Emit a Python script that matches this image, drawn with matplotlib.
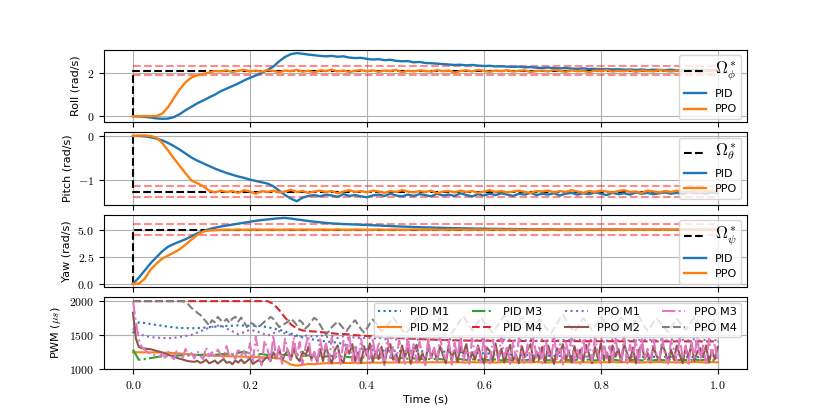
import numpy as np
import matplotlib
matplotlib.use("Agg")
import matplotlib.pyplot as plt

plt.rcParams['mathtext.fontset'] = 'cm'
plt.rcParams['font.family'] = ['DejaVu Sans']

# ---------------- data ----------------
t_slow = np.linspace(0.0, 1.0, 101)
t_fast = np.linspace(0.0, 1.0, 201)

roll_ref = 2.12
pitch_ref = -1.26
yaw_ref = 5.0
roll_band = [1.90, 2.34]
pitch_band = [-1.13, -1.39]
yaw_band = [4.5, 5.5]

roll_pid = [0.00, -0.01, -0.03, -0.06, -0.10, -0.12, -0.11, -0.04, 0.10, 0.28,
            0.44, 0.60, 0.73, 0.87, 1.00, 1.16, 1.28, 1.40, 1.52, 1.66,
            1.78, 1.89, 2.01, 2.15, 2.30, 2.55, 2.75, 2.88, 2.93, 2.90,
            2.86, 2.83, 2.80, 2.78, 2.80, 2.76, 2.78, 2.72, 2.70, 2.71,
            2.66, 2.63, 2.65, 2.60, 2.62, 2.57, 2.55, 2.56, 2.50, 2.52,
            2.47, 2.46, 2.44, 2.42, 2.40, 2.38, 2.39, 2.36, 2.38, 2.35,
            2.33, 2.34, 2.31, 2.32, 2.30, 2.29, 2.30, 2.27, 2.28, 2.25,
            2.24, 2.26, 2.23, 2.22, 2.24, 2.21, 2.20, 2.22, 2.19, 2.20,
            2.18, 2.19, 2.17, 2.18, 2.16, 2.17, 2.15, 2.17, 2.14, 2.16,
            2.15, 2.14, 2.16, 2.13, 2.15, 2.14, 2.13, 2.15, 2.12, 2.14,
            2.13]
roll_ppo = [0.00, 0.00, 0.01, 0.00, 0.01, 0.12, 0.42, 0.85, 1.25, 1.58,
            1.80, 1.90, 1.96, 2.03, 2.10, 2.08, 2.13, 2.05, 2.11, 2.15,
            2.08, 2.12, 2.06, 2.14, 2.10, 2.04, 2.12, 2.09, 2.15, 2.07,
            2.11, 2.03, 2.13, 2.10, 2.16, 2.08, 2.12, 2.05, 2.11, 2.14,
            2.09, 2.13, 2.06, 2.12, 2.10, 2.15, 2.04, 2.11, 2.08, 2.13,
            2.10, 2.07, 2.14, 2.09, 2.12, 2.02, 2.10, 2.13, 2.08, 2.15,
            2.11, 2.06, 2.12, 2.09, 2.14, 2.07, 2.11, 2.13, 2.05, 2.10,
            2.12, 2.08, 2.15, 2.10, 2.06, 2.13, 2.09, 2.11, 2.04, 2.12,
            2.10, 2.14, 2.07, 2.11, 2.09, 2.13, 2.06, 2.12, 2.10, 2.08,
            2.14, 2.11, 2.07, 2.12, 2.09, 2.13, 2.10, 2.06, 2.12, 2.10,
            2.11]

pitch_pid = [0.00, -0.00, -0.01, -0.03, -0.06, -0.10, -0.16, -0.23, -0.31, -0.40,
             -0.49, -0.56, -0.62, -0.68, -0.74, -0.79, -0.84, -0.88, -0.92, -0.95,
             -0.99, -1.02, -1.05, -1.08, -1.14, -1.24, -1.34, -1.42, -1.48, -1.40,
             -1.36, -1.34, -1.37, -1.33, -1.35, -1.38, -1.32, -1.36, -1.34, -1.37,
             -1.39, -1.35, -1.33, -1.36, -1.31, -1.35, -1.37, -1.33, -1.36, -1.32,
             -1.34, -1.37, -1.31, -1.35, -1.33, -1.36, -1.30, -1.34, -1.37, -1.32,
             -1.35, -1.31, -1.34, -1.30, -1.33, -1.36, -1.31, -1.33, -1.29, -1.34,
             -1.31, -1.33, -1.30, -1.35, -1.31, -1.29, -1.33, -1.30, -1.32, -1.28,
             -1.31, -1.34, -1.29, -1.32, -1.30, -1.33, -1.28, -1.31, -1.29, -1.32,
             -1.30, -1.28, -1.31, -1.29, -1.32, -1.28, -1.30, -1.29, -1.31, -1.28,
             -1.30]
pitch_ppo = [0.00, 0.01, 0.01, 0.00, -0.04, -0.16, -0.33, -0.51, -0.68, -0.85,
             -1.01, -1.07, -1.14, -1.24, -1.28, -1.24, -1.27, -1.25, -1.29, -1.23,
             -1.26, -1.31, -1.25, -1.27, -1.24, -1.28, -1.26, -1.22, -1.27, -1.25,
             -1.29, -1.26, -1.24, -1.27, -1.25, -1.30, -1.26, -1.23, -1.27, -1.25,
             -1.28, -1.24, -1.26, -1.29, -1.25, -1.27, -1.23, -1.26, -1.28, -1.25,
             -1.27, -1.24, -1.30, -1.26, -1.25, -1.28, -1.24, -1.27, -1.25, -1.29,
             -1.26, -1.23, -1.27, -1.25, -1.28, -1.26, -1.24, -1.27, -1.29, -1.25,
             -1.26, -1.24, -1.28, -1.25, -1.27, -1.23, -1.26, -1.29, -1.25, -1.27,
             -1.24, -1.26, -1.28, -1.25, -1.23, -1.27, -1.26, -1.29, -1.24, -1.26,
             -1.28, -1.25, -1.27, -1.24, -1.26, -1.28, -1.25, -1.27, -1.26, -1.24,
             -1.26]

yaw_pid = [0.00, 0.55, 1.22, 1.88, 2.45, 3.00, 3.42, 3.68, 3.90, 4.12,
           4.39, 4.66, 4.85, 5.05, 5.18, 5.29, 5.38, 5.47, 5.56, 5.65,
           5.74, 5.82, 5.89, 5.95, 6.01, 6.06, 6.09, 6.03, 5.95, 5.88,
           5.80, 5.74, 5.68, 5.63, 5.58, 5.55, 5.52, 5.50, 5.48, 5.46,
           5.44, 5.41, 5.39, 5.36, 5.34, 5.31, 5.29, 5.27, 5.25, 5.23,
           5.21, 5.20, 5.18, 5.17, 5.15, 5.14, 5.13, 5.12, 5.11, 5.10,
           5.09, 5.08, 5.08, 5.07, 5.06, 5.06, 5.05, 5.05, 5.04, 5.04,
           5.03, 5.03, 5.03, 5.02, 5.03, 5.02, 5.02, 5.01, 5.02, 5.01,
           5.02, 5.01, 5.01, 5.02, 5.01, 5.00, 5.01, 5.01, 5.00, 5.01,
           5.00, 5.01, 5.00, 5.00, 5.01, 5.00, 5.00, 5.01, 5.00, 5.00,
           5.00]
yaw_ppo = [0.00, 0.00, 0.45, 1.30, 1.85, 2.32, 2.60, 2.88, 3.20, 3.62,
           4.08, 4.52, 4.83, 4.92, 4.96, 4.98, 5.00, 4.99, 5.01, 4.98,
           5.00, 5.02, 4.99, 5.00, 5.01, 4.98, 5.00, 5.02, 4.99, 5.01,
           5.00, 4.98, 5.01, 5.00, 4.99, 5.02, 5.00, 4.99, 5.01, 5.00,
           4.98, 5.00, 5.02, 4.99, 5.00, 5.01, 4.99, 5.00, 5.02, 5.00,
           4.99, 5.01, 5.00, 4.98, 5.01, 5.00, 5.02, 4.99, 5.00, 5.01,
           4.99, 5.00, 5.02, 5.00, 4.99, 5.01, 5.00, 4.98, 5.01, 5.00,
           5.02, 4.99, 5.00, 5.01, 4.99, 5.00, 5.01, 5.00, 4.99, 5.02,
           5.00, 4.99, 5.01, 5.00, 4.98, 5.01, 5.00, 5.02, 4.99, 5.00,
           5.01, 4.99, 5.00, 5.01, 5.00, 4.99, 5.01, 5.00, 5.02, 5.00,
           5.00]

# PWM, PID motors (t_slow)
pid_m1 = [1530, 1690, 1680, 1665, 1650, 1640, 1625, 1615, 1608, 1605,
          1603, 1605, 1610, 1618, 1625, 1632, 1638, 1640, 1645, 1642,
          1640, 1640, 1632, 1618, 1600, 1580, 1555, 1525, 1495, 1470,
          1450, 1435, 1420, 1410, 1400, 1390, 1370, 1345, 1320, 1300,
          1290, 1282, 1278, 1275, 1272, 1270, 1269, 1268, 1267, 1266,
          1266, 1264, 1262, 1260, 1258, 1255, 1251, 1247, 1243, 1239,
          1235, 1231, 1227, 1223, 1219, 1215, 1212, 1209, 1206, 1203,
          1200, 1198, 1197, 1195, 1194, 1193, 1192, 1191, 1190, 1190,
          1189, 1188, 1188, 1187, 1186, 1186, 1185, 1185, 1184, 1184,
          1183, 1183, 1182, 1182, 1181, 1181, 1180, 1180, 1180, 1179,
          1179]
pid_m2 = [1250, 1250, 1250, 1249, 1248, 1246, 1243, 1238, 1232, 1225,
          1218, 1212, 1207, 1203, 1200, 1197, 1194, 1191, 1188, 1185,
          1182, 1180, 1177, 1173, 1168, 1160, 1120, 1070, 1055, 1065,
          1080, 1075, 1085, 1090, 1088, 1092, 1095, 1093, 1097, 1095,
          1098, 1100, 1097, 1102, 1099, 1103, 1100, 1105, 1101, 1104,
          1100, 1106, 1102, 1105, 1101, 1107, 1103, 1100, 1106, 1102,
          1108, 1103, 1100, 1105, 1109, 1103, 1101, 1106, 1102, 1108,
          1104, 1100, 1106, 1103, 1109, 1104, 1101, 1107, 1103, 1100,
          1106, 1104, 1108, 1102, 1105, 1109, 1103, 1101, 1106, 1104,
          1108, 1102, 1105, 1100, 1106, 1103, 1108, 1104, 1101, 1106,
          1104]
pid_m3 = [1290, 1140, 1150, 1165, 1180, 1190, 1195, 1200, 1205, 1208,
          1212, 1210, 1215, 1220, 1214, 1222, 1228, 1220, 1240, 1262,
          1230, 1215, 1225, 1210, 1222, 1205, 1215, 1200, 1212, 1198,
          1205, 1192, 1200, 1188, 1195, 1182, 1190, 1178, 1185, 1172,
          1180, 1168, 1175, 1165, 1170, 1160, 1166, 1155, 1162, 1150,
          1158, 1148, 1155, 1145, 1152, 1140, 1150, 1138, 1148, 1135,
          1146, 1134, 1145, 1132, 1144, 1130, 1143, 1132, 1145, 1130,
          1142, 1133, 1146, 1130, 1144, 1131, 1142, 1134, 1145, 1130,
          1143, 1132, 1146, 1131, 1142, 1133, 1145, 1130, 1144, 1132,
          1143, 1131, 1146, 1133, 1142, 1130, 1145, 1132, 1144, 1131,
          1140]
pid_m4 = [2000, 2000, 2000, 2000, 2000, 2000, 2000, 2000, 2000, 2000,
          2000, 2000, 2000, 2000, 2000, 2000, 2000, 2000, 2000, 2000,
          2000, 2000, 2000, 2000, 1960, 1870, 1760, 1660, 1600, 1570,
          1560, 1555, 1545, 1540, 1530, 1520, 1518, 1512, 1500, 1495,
          1490, 1487, 1480, 1476, 1470, 1462, 1458, 1452, 1448, 1444,
          1440, 1437, 1434, 1431, 1428, 1425, 1424, 1422, 1421, 1420,
          1420, 1419, 1418, 1418, 1417, 1417, 1416, 1416, 1415, 1415,
          1415, 1414, 1414, 1414, 1413, 1413, 1413, 1413, 1412, 1412,
          1412, 1412, 1412, 1411, 1411, 1411, 1411, 1411, 1410, 1410,
          1410, 1410, 1410, 1410, 1410, 1410, 1410, 1410, 1410, 1410,
          1410]
ppo_m1 = [1600, 1520, 1490, 1475, 1465, 1460, 1455, 1462, 1475, 1490,
          1505, 1540, 1575, 1610, 1635, 1645, 1600, 1560, 1515, 1545,
          1580, 1560, 1535, 1495, 1530, 1560, 1525, 1505, 1480, 1490,
          1495, 1475, 1505, 1470, 1490, 1460, 1485, 1455, 1475, 1450,
          1470, 1445, 1465, 1440, 1460, 1438, 1455, 1435, 1452, 1430,
          1450, 1428, 1446, 1425, 1442, 1430, 1448, 1424, 1440, 1426,
          1445, 1422, 1438, 1428, 1444, 1420, 1436, 1425, 1442, 1418,
          1435, 1424, 1440, 1420, 1437, 1423, 1443, 1419, 1434, 1426,
          1441, 1420, 1436, 1424, 1440, 1418, 1435, 1425, 1442, 1421,
          1437, 1423, 1439, 1419, 1434, 1426, 1441, 1420, 1436, 1424,
          1430]

# PWM, PPO motors (t_fast)
ppo_m2 = [1830, 1450, 1330, 1310, 1305, 1300, 1295, 1285, 1270, 1260,
          1245, 1230, 1215, 1200, 1185, 1170, 1155, 1145, 1130, 1120,
          1115, 1110,
          1125, 1095, 1110, 1140, 1090, 1105, 1130, 1085, 1120, 1150,
          1095, 1110, 1075, 1130, 1100, 1145, 1090, 1120, 1160, 1080,
          1110, 1135, 1095, 1150,
          1180, 1120, 1250, 1160, 1300, 1130, 1220, 1280, 1140, 1310,
          1170, 1120, 1260, 1200, 1330, 1150, 1240, 1110,
          1300, 1120, 1360, 1180, 1090, 1280, 1350, 1150, 1100, 1320,
          1230, 1370, 1120, 1250, 1090, 1340, 1200, 1380, 1110, 1260,
          1150, 1330, 1090, 1290, 1370, 1140, 1220, 1100, 1350, 1180,
          1310, 1080, 1270, 1360, 1130, 1240, 1100, 1380, 1170, 1300,
          1120, 1340, 1210, 1090, 1360, 1160, 1280, 1110, 1330, 1230,
          1370, 1100, 1250, 1140, 1350, 1190, 1090, 1320, 1270, 1120,
          1380, 1150, 1300, 1100, 1240, 1360, 1130, 1210, 1090, 1340,
          1180, 1290, 1370, 1110, 1260, 1150, 1330, 1100, 1350, 1200,
          1080, 1310, 1240, 1370, 1130, 1270, 1100, 1340, 1170, 1290,
          1120, 1360, 1220, 1090, 1330, 1160, 1380, 1140, 1250, 1100,
          1350, 1190, 1300, 1110, 1370, 1230, 1130, 1320, 1090, 1280,
          1360, 1150, 1240, 1100, 1340, 1200, 1130, 1370, 1260, 1110,
          1290, 1140, 1350, 1210, 1090, 1320, 1180, 1370, 1120, 1260,
          1310, 1180, 1350, 1100, 1280, 1150, 1330]
ppo_m3 = [2000, 1700, 1430, 1330, 1290, 1250, 1230, 1215, 1200, 1190,
          1230, 1170, 1260, 1190, 1150, 1280, 1210, 1170, 1300, 1180,
          1240, 1160, 1270, 1200, 1150, 1320, 1190, 1250, 1160, 1290,
          1220, 1170, 1340, 1180, 1240, 1150, 1310, 1200, 1260, 1170,
          1380, 1120, 1480, 1200, 1060, 1420, 1300, 1100, 1500, 1150,
          1350, 1080, 1450, 1250, 1120, 1470, 1180, 1400, 1070, 1330,
          1490, 1130, 1260, 1060, 1440, 1210, 1380, 1100, 1470, 1160,
          1310, 1080, 1420, 1230, 1500, 1120, 1360, 1070, 1450, 1190,
          1280, 1090, 1460, 1140, 1400, 1220, 1060, 1480, 1170, 1340,
          1100, 1430, 1250, 1080, 1490, 1150, 1370, 1110, 1410, 1200,
          1060, 1460, 1130, 1320, 1090, 1480, 1240, 1150, 1420, 1070,
          1390, 1180, 1500, 1120, 1300, 1080, 1450, 1210, 1360, 1100,
          1470, 1160, 1060, 1430, 1270, 1120, 1490, 1190, 1350, 1080,
          1410, 1140, 1460, 1230, 1070, 1380, 1110, 1480, 1170, 1320,
          1090, 1440, 1260, 1130, 1500, 1150, 1370, 1060, 1420, 1200,
          1470, 1100, 1290, 1080, 1450, 1180, 1390, 1120, 1480, 1240,
          1070, 1410, 1160, 1340, 1100, 1460, 1210, 1130, 1490, 1090,
          1360, 1190, 1430, 1070, 1470, 1140, 1300, 1110, 1440, 1220,
          1130, 1460, 1200, 1080, 1420, 1290, 1100, 1480, 1160, 1350,
          1080, 1400, 1170, 1480, 1120, 1350, 1090, 1450, 1200, 1380,
          1100]
ppo_m4 = [2000, 2000, 2000, 2000, 2000, 2000, 2000, 2000, 2000, 2000,
          2000, 2000, 2000, 2000, 2000, 2000, 2000, 2000,
          1980, 1950, 1900, 1870, 1830, 1800, 1750, 1700,
          1645, 1720, 1690, 1770, 1720, 1695, 1740, 1680, 1745, 1770,
          1700, 1760, 1690, 1620, 1680, 1670, 1630, 1620, 1660, 1700,
          1720, 1770, 1740, 1680, 1620, 1650, 1670, 1700, 1745, 1700,
          1650, 1720, 1680, 1600, 1640, 1700, 1757, 1720, 1650, 1580,
          1505, 1560, 1620, 1660, 1700, 1650, 1600, 1560, 1620, 1680,
          1720, 1650, 1590, 1540, 1600, 1670, 1730, 1690, 1620, 1560,
          1600, 1650, 1700, 1760, 1700, 1640, 1580, 1520, 1560, 1620,
          1680, 1740, 1800, 1720, 1650, 1600, 1550, 1610, 1680, 1750,
          1700, 1630, 1580, 1530, 1590, 1660, 1720, 1780, 1710, 1640,
          1570, 1620, 1690, 1760, 1700, 1640, 1590, 1540, 1600, 1660,
          1730, 1790, 1720, 1650, 1580, 1620, 1700, 1770, 1700, 1630,
          1560, 1610, 1680, 1740, 1690, 1620, 1570, 1530, 1600, 1670,
          1740, 1800, 1730, 1660, 1600, 1550, 1610, 1680, 1750, 1700,
          1640, 1580, 1630, 1700, 1760, 1710, 1650, 1590, 1540, 1610,
          1690, 1760, 1720, 1650, 1590, 1640, 1710, 1780, 1700, 1620,
          1570, 1620, 1690, 1750, 1700, 1640, 1600, 1550, 1610, 1680,
          1740, 1690, 1630, 1580, 1640, 1700, 1760, 1700, 1640, 1590,
          1560, 1620, 1680, 1730, 1690]

x_ticks = [0.0, 0.2, 0.4, 0.6, 0.8, 1.0]
x_ticklabels = [r'$0.0$', r'$0.2$', r'$0.4$', r'$0.6$', r'$0.8$', r'$1.0$']
roll_ticks, roll_ticklabels = [0, 2], [r'$0$', r'$2$']
pitch_ticks, pitch_ticklabels = [-1, 0], [r'$-1$', r'$0$']
yaw_ticks, yaw_ticklabels = [0.0, 2.5, 5.0], [r'$0.0$', r'$2.5$', r'$5.0$']
pwm_ticks, pwm_ticklabels = [1000, 1500, 2000], [r'$1000$', r'$1500$', r'$2000$']

# ---------------- plot ----------------
fig, axes = plt.subplots(4, 1, sharex=True, figsize=(8.3, 4.15), dpi=100)
fig.subplots_adjust(hspace=0.14)

panels = [
    (axes[0], roll_ref, roll_band, roll_pid, roll_ppo, r'$\Omega^*_\phi$', 'Roll (rad/s)', roll_ticks, roll_ticklabels),
    (axes[1], pitch_ref, pitch_band, pitch_pid, pitch_ppo, r'$\Omega^*_\theta$', 'Pitch (rad/s)', pitch_ticks, pitch_ticklabels),
    (axes[2], yaw_ref, yaw_band, yaw_pid, yaw_ppo, r'$\Omega^*_\psi$', 'Yaw (rad/s)', yaw_ticks, yaw_ticklabels),
]
for ax, ref, band, pid, ppo, lab, ylab, yt, ytl in panels:
    ax.grid(True, color='#b0b0b0', linewidth=0.8)
    for b in band:
        ax.plot([0, 1], [b, b], color='red', alpha=0.45, linestyle='--', linewidth=1.5)
    ax.plot([0, 0, 1], [0, ref, ref], color='black', linestyle='--', linewidth=1.5, label=lab)
    ax.plot(t_slow, pid, color='C0', linewidth=1.7, label='PID')
    ax.plot(t_slow, ppo, color='C1', linewidth=1.7, label='PPO')
    ax.set_ylabel(ylab, fontsize=8)
    ax.set_yticks(yt)
    ax.set_yticklabels(ytl, fontsize=8.5)
    leg = ax.legend(loc='upper right', fontsize=8)
    leg.get_texts()[0].set_fontsize(12)

ax = axes[3]
ax.grid(True, color='#b0b0b0', linewidth=0.8)
ax.plot(t_slow, pid_m1, color='C0', linestyle=':', linewidth=1.5, label='PID M1')
ax.plot(t_slow, pid_m2, color='C1', linestyle='-', linewidth=1.5, label='PID M2')
ax.plot(t_slow, pid_m3, color='C2', linestyle='-.', linewidth=1.5, label='PID M3')
ax.plot(t_slow, pid_m4, color='C3', linestyle='--', linewidth=1.5, label='PID M4')
ax.plot(t_slow, ppo_m1, color='C4', linestyle=':', linewidth=1.5, label='PPO M1')
ax.plot(t_fast, ppo_m2, color='C5', linestyle='-', linewidth=1.5, label='PPO M2')
ax.plot(t_fast, ppo_m3, color='C6', linestyle='-.', linewidth=1.5, label='PPO M3')
ax.plot(t_fast, ppo_m4, color='C7', linestyle='--', linewidth=1.5, label='PPO M4')
ax.set_ylim(1000, 2060)
ax.set_yticks(pwm_ticks)
ax.set_yticklabels(pwm_ticklabels, fontsize=8.5)
ax.set_ylabel(r'PWM ($\mu s$)', fontsize=8)
ax.set_xlabel('Time (s)', fontsize=8, labelpad=1.5)
ax.set_xticks(x_ticks)
ax.set_xticklabels(x_ticklabels, fontsize=8.5)
ax.legend(loc='upper right', ncol=4, fontsize=8.15)

fig.savefig('out.png', dpi=100)
